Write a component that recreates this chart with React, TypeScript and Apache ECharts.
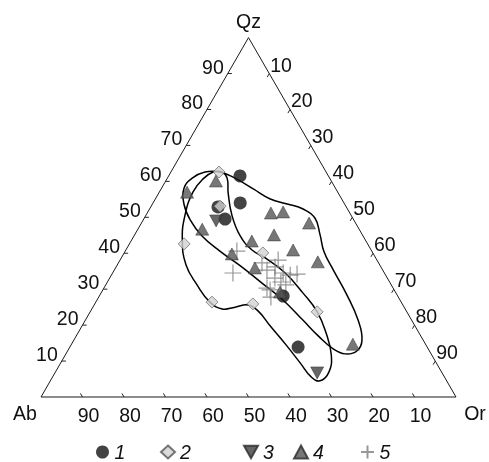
import React, { useEffect, useRef } from "react";
import * as echarts from "echarts";

// Ternary diagram Qz – Ab – Or. Every point is [Qz, Or] in %, Ab = 100 − Qz − Or.
const tickValues = [10, 20, 30, 40, 50, 60, 70, 80, 90];
const vertexNames = ["Qz", "Ab", "Or"];
const seriesNames = ["1", "2", "3", "4", "5"];

const group1 = [
  [61.5, 17.2], [54.0, 21.0], [49.5, 19.6], [52.9, 16.2], [28.1, 44.3], [13.9, 55.0],
];
const group2 = [
  [62.6, 11.6], [53.1, 16.6], [42.6, 13.2], [26.4, 28.0], [25.9, 38.1], [40.1, 33.4], [23.7, 54.7],
];
const group3 = [
  [49.0, 17.7], [6.7, 63.2],
];
const group4 = [
  [60.1, 12.1], [57.0, 6.7], [46.7, 15.5], [39.8, 26.1], [43.4, 29.1], [51.2, 29.8], [51.5, 32.6],
  [48.4, 40.4], [45.1, 33.6], [40.9, 40.3], [37.6, 47.9], [35.9, 33.6], [29.2, 43.0], [14.7, 67.8],
];
const group5 = [
  [40.6, 26.9], [34.5, 29.0], [37.3, 34.6], [35.3, 36.8], [36.2, 38.3], [38.1, 38.1], [34.5, 41.1],
  [33.9, 43.1], [34.2, 44.6], [33.1, 39.8], [32.0, 41.8], [30.3, 39.3], [27.8, 41.5], [31.2, 43.4],
  [29.8, 40.3],
];

const contourA = [
  [62.6, 10.2], [62.6, 12.3], [60.9, 14.4], [56.8, 16.7], [50.6, 20.7], [44.8, 25.6], [40.9, 30.4],
  [38.7, 34.7], [34.5, 41.6], [28.9, 48.7], [23.7, 54.7], [17.8, 59.8], [11.7, 64.1], [7.0, 65.9],
  [4.5, 65.0], [5.6, 62.3], [9.5, 57.7], [14.5, 51.8], [19.8, 45.3], [23.9, 40.4], [25.6, 37.1],
  [25.0, 34.3], [24.5, 31.4], [26.4, 27.5], [31.2, 22.0], [36.7, 16.6], [43.7, 12.2], [50.6, 9.4],
  [57.0, 8.1], [60.7, 8.7],
];
const contourB = [
  [58.2, 5.4], [60.9, 6.0], [62.6, 8.2], [62.6, 11.8], [60.9, 16.3], [57.9, 22.2], [55.1, 27.7],
  [53.7, 32.5], [52.3, 37.0], [49.8, 41.1], [45.1, 44.7], [40.4, 48.0], [35.3, 52.8], [28.4, 59.5],
  [21.4, 65.7], [15.9, 69.4], [12.8, 69.7], [12.0, 67.3], [13.4, 63.7], [17.0, 58.3], [21.4, 52.4],
  [27.0, 44.8], [31.7, 37.4], [36.5, 29.8], [40.6, 22.8], [44.8, 16.4], [49.3, 11.3], [53.7, 7.6],
];
const contours = [contourA, contourB];

const H = Math.sqrt(3) / 2;
const toXY = (qz: number, or: number) => [or + qz / 2, qz * H];
const FONT = '"Liberation Sans", Arial, sans-serif';

export default function App() {
  const ref = useRef<HTMLDivElement>(null);
  useEffect(() => {
    if (!ref.current) return;
    const chart = echarts.init(ref.current, undefined, { renderer: "svg" });
    const TL = 1.0;
    const txt = (x: number, y: number, text: string, align: string, size = 19.5) => ({
      type: "text",
      x,
      y,
      style: {
        text,
        fill: "#111",
        font: `${size}px ${FONT}`,
        align,
        verticalAlign: "middle",
      },
    });
    const frameRender = (params: any, api: any) => {
      const P = (qz: number, or: number) => api.coord(toXY(qz, or));
      const ab = P(0, 0), or = P(0, 100), qz = P(100, 0);
      const children: any[] = [
        { type: "polygon", shape: { points: [ab, or, qz] }, style: { fill: "none", stroke: "#1a1a1a", lineWidth: 1 } },
      ];
      const line = (a: number[], b: number[]) => ({
        type: "line",
        shape: { x1: a[0], y1: a[1], x2: b[0], y2: b[1] },
        style: { stroke: "#222", lineWidth: 1 },
      });
      tickValues.forEach((t) => {
        const b0 = P(0, 100 - t), b1 = P(TL, 100 - t - TL);
        const l0 = P(t, 0), l1 = P(t, TL);
        const r0 = P(100 - t, t), r1 = P(100 - t - TL, t);
        children.push(line(b0, b1), line(l0, l1), line(r0, r1));
        children.push(txt(b0[0] + 6, b0[1] + 18, String(t), "center"));
        children.push(txt(l0[0] - 4, l0[1] - 7, String(t), "right"));
        children.push(txt(r0[0] + 1, r0[1] - 9, String(t), "left"));
      });
      children.push(txt(qz[0], qz[1] - 17, vertexNames[0], "center"));
      children.push(txt(ab[0] - 16, ab[1] + 16, vertexNames[1], "center"));
      children.push(txt(or[0] + 19, or[1] + 16, vertexNames[2], "center"));
      return { type: "group", children };
    };
    const contourRender = (params: any, api: any) => {
      const c = contours[params.dataIndex];
      const pts = c.map((p) => api.coord(toXY(p[0], p[1])));
      return {
        type: "polygon",
        shape: { points: pts, smooth: 0.45 },
        style: { fill: "none", stroke: "#000", lineWidth: 1.5 },
      };
    };
    const mk = (g: number[][]) => g.map((p) => toXY(p[0], p[1]));
    const legendX = [96, 160, 243, 293, 360];
    const option: any = {
      animation: false,
      grid: { left: 41, top: 37.6, width: 415, height: 359.4 },
      xAxis: { type: "value", min: 0, max: 100, show: false },
      yAxis: { type: "value", min: 0, max: 100 * H, show: false },
      legend: seriesNames.map((n, i) => ({
        data: [n],
        left: legendX[i],
        top: 442,
        padding: [0, 6, 0, 0],
        itemWidth: 14,
        itemHeight: 13,
        textStyle: { fontStyle: "italic", fontSize: 19.5, fontFamily: FONT, color: "#111" },
      })),
      series: [
        { type: "custom", name: "frame", renderItem: frameRender, data: [[0, 0]], z: 1, silent: true },
        { type: "custom", name: "contours", renderItem: contourRender, data: contours.map((_, i) => [i, 0]), z: 2, silent: true },
        {
          type: "scatter", name: seriesNames[4], data: mk(group5), z: 3, symbol: "path://M5,0L5,10M0,5L10,5", symbolSize: 17,
          itemStyle: { color: "rgba(0,0,0,0)", borderColor: "#7d7d7d", borderWidth: 1.2 },
        },
        {
          type: "scatter", name: seriesNames[0], data: mk(group1), z: 4, symbol: "circle", symbolSize: 13,
          itemStyle: { color: "#141414" },
        },
        {
          type: "scatter", name: seriesNames[1], data: mk(group2), z: 5, symbol: "diamond", symbolSize: 12,
          itemStyle: { color: "#d2d2d2", borderColor: "#555", borderWidth: 0.8 },
        },
        {
          type: "scatter", name: seriesNames[2], data: mk(group3), z: 4, symbol: "path://M0,0L10,0L5,9Z", symbolSize: [13, 12],
          itemStyle: { color: "#404040", borderColor: "#2a2a2a", borderWidth: 0.6 },
        },
        {
          type: "scatter", name: seriesNames[3], data: mk(group4), z: 4, symbol: "triangle", symbolSize: [13, 12],
          itemStyle: { color: "#555", borderColor: "#2a2a2a", borderWidth: 0.6 },
        },
      ],
    };
    chart.setOption(option);
    return () => chart.dispose();
  }, []);
  return <div ref={ref} style={{ position: "fixed", left: 0, top: 0, width: 489, height: 462 }} />;
}
